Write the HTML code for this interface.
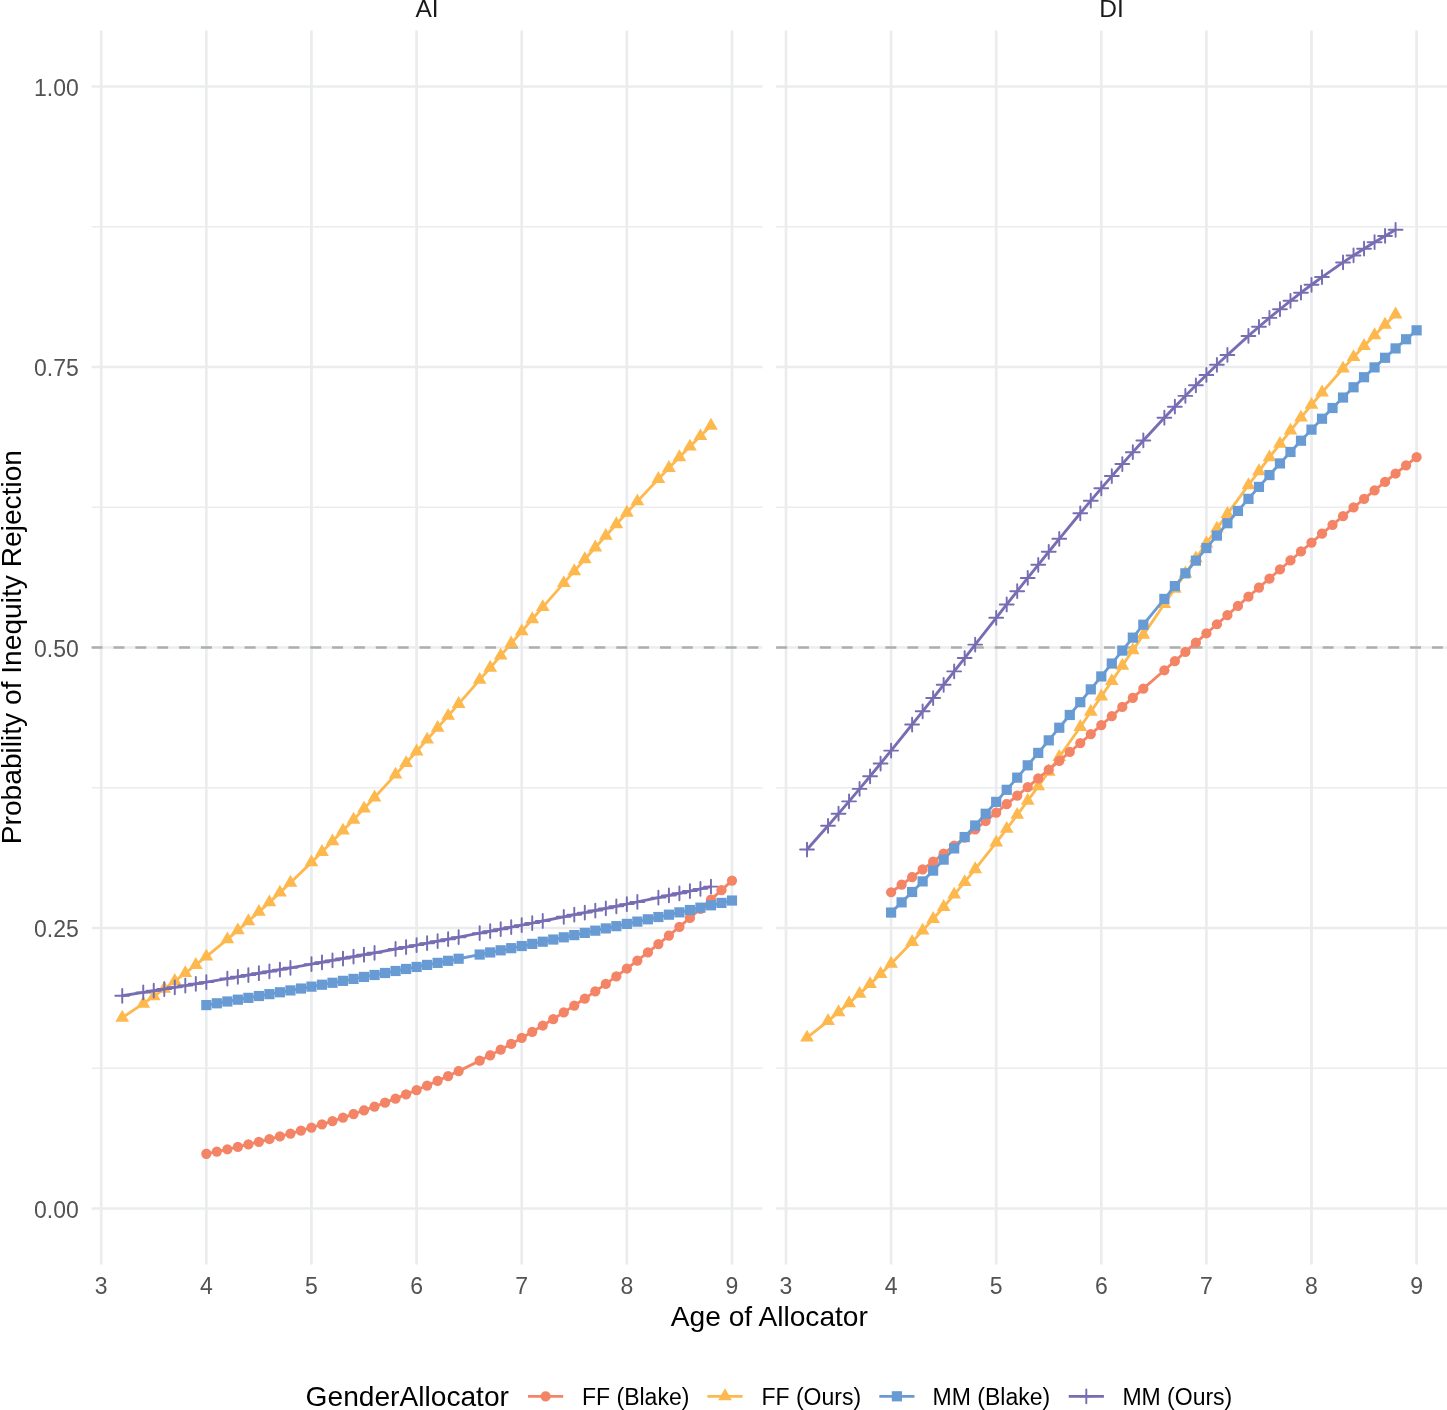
<!DOCTYPE html>
<html lang="en"><head><meta charset="utf-8"><title>Probability of Inequity Rejection by Age of Allocator</title>
<style>html,body{margin:0;padding:0;background:#fff}body{width:1447px;height:1410px;overflow:hidden}svg{display:block}text{font-family:"Liberation Sans",Arial,Helvetica,sans-serif}.ax{font-size:23px;fill:#525252}.st{font-size:24.5px;fill:#1A1A1A}.ti{font-size:28.15px;fill:#000}.lg{font-size:23px;fill:#000}</style></head><body>
<svg width="1447" height="1410" viewBox="0 0 1447 1410">
<rect width="1447" height="1410" fill="#fff"/>
<g>
<path d="M91.65 1068.25H762.6" stroke="#EBECED" stroke-width="1.36"/>
<path d="M91.65 787.75H762.6" stroke="#EBECED" stroke-width="1.36"/>
<path d="M91.65 507.25H762.6" stroke="#EBECED" stroke-width="1.36"/>
<path d="M91.65 226.75H762.6" stroke="#EBECED" stroke-width="1.36"/>
<path d="M91.65 1208.50H762.6" stroke="#EBECED" stroke-width="2.73"/>
<path d="M91.65 928.00H762.6" stroke="#EBECED" stroke-width="2.73"/>
<path d="M91.65 647.50H762.6" stroke="#EBECED" stroke-width="2.73"/>
<path d="M91.65 367.00H762.6" stroke="#EBECED" stroke-width="2.73"/>
<path d="M91.65 86.50H762.6" stroke="#EBECED" stroke-width="2.73"/>
<path d="M101.20 30.4V1264.6" stroke="#EBECED" stroke-width="2.73"/>
<path d="M206.33 30.4V1264.6" stroke="#EBECED" stroke-width="2.73"/>
<path d="M311.46 30.4V1264.6" stroke="#EBECED" stroke-width="2.73"/>
<path d="M416.59 30.4V1264.6" stroke="#EBECED" stroke-width="2.73"/>
<path d="M521.72 30.4V1264.6" stroke="#EBECED" stroke-width="2.73"/>
<path d="M626.85 30.4V1264.6" stroke="#EBECED" stroke-width="2.73"/>
<path d="M731.98 30.4V1264.6" stroke="#EBECED" stroke-width="2.73"/>
<path d="M91.65 647.50H762.6" stroke="#ADAEAF" stroke-width="2.73" stroke-dasharray="10.93 10.93"/>
</g>
<g>
<path d="M776.15 1068.25H1447.0" stroke="#EBECED" stroke-width="1.36"/>
<path d="M776.15 787.75H1447.0" stroke="#EBECED" stroke-width="1.36"/>
<path d="M776.15 507.25H1447.0" stroke="#EBECED" stroke-width="1.36"/>
<path d="M776.15 226.75H1447.0" stroke="#EBECED" stroke-width="1.36"/>
<path d="M776.15 1208.50H1447.0" stroke="#EBECED" stroke-width="2.73"/>
<path d="M776.15 928.00H1447.0" stroke="#EBECED" stroke-width="2.73"/>
<path d="M776.15 647.50H1447.0" stroke="#EBECED" stroke-width="2.73"/>
<path d="M776.15 367.00H1447.0" stroke="#EBECED" stroke-width="2.73"/>
<path d="M776.15 86.50H1447.0" stroke="#EBECED" stroke-width="2.73"/>
<path d="M786.00 30.4V1264.6" stroke="#EBECED" stroke-width="2.73"/>
<path d="M891.10 30.4V1264.6" stroke="#EBECED" stroke-width="2.73"/>
<path d="M996.20 30.4V1264.6" stroke="#EBECED" stroke-width="2.73"/>
<path d="M1101.30 30.4V1264.6" stroke="#EBECED" stroke-width="2.73"/>
<path d="M1206.40 30.4V1264.6" stroke="#EBECED" stroke-width="2.73"/>
<path d="M1311.50 30.4V1264.6" stroke="#EBECED" stroke-width="2.73"/>
<path d="M1416.60 30.4V1264.6" stroke="#EBECED" stroke-width="2.73"/>
<path d="M776.15 647.50H1447.0" stroke="#ADAEAF" stroke-width="2.73" stroke-dasharray="10.93 10.93"/>
</g>
<g><path d="M122.23 1017.75L143.25 1003.67L153.76 996.33L164.28 988.79L174.79 981.05L185.30 973.10L195.82 964.96L206.33 956.61L227.36 939.32L237.87 930.37L248.38 921.23L258.89 911.89L269.41 902.36L279.92 892.64L290.43 882.73L311.46 862.38L321.97 851.95L332.49 841.35L343.00 830.59L353.51 819.67L364.02 808.62L374.54 797.42L395.56 774.64L406.08 763.08L416.59 751.42L427.10 739.66L437.62 727.82L448.13 715.90L458.64 703.92L479.67 679.82L490.18 667.72L500.69 655.59L511.21 643.47L521.72 631.34L532.23 619.23L542.75 607.15L563.77 583.10L574.28 571.17L584.80 559.30L595.31 547.51L605.82 535.81L616.34 524.22L626.85 512.73L637.36 501.36L658.39 479.01L668.90 468.05L679.41 457.24L689.93 446.58L700.44 436.09L710.95 425.77" fill="none" stroke="#FDB84E" stroke-width="2.85" stroke-linejoin="round" stroke-linecap="butt"/>
<path d="M122.23 1009.82L129.09 1021.72L115.36 1021.72Z" fill="#FDB84E"/>
<path d="M143.25 995.74L150.12 1007.63L136.38 1007.63Z" fill="#FDB84E"/>
<path d="M153.76 988.40L160.63 1000.29L146.90 1000.29Z" fill="#FDB84E"/>
<path d="M164.28 980.86L171.15 992.75L157.41 992.75Z" fill="#FDB84E"/>
<path d="M174.79 973.11L181.66 985.01L167.92 985.01Z" fill="#FDB84E"/>
<path d="M185.30 965.17L192.17 977.07L178.44 977.07Z" fill="#FDB84E"/>
<path d="M195.82 957.03L202.69 968.92L188.95 968.92Z" fill="#FDB84E"/>
<path d="M206.33 948.68L213.20 960.58L199.46 960.58Z" fill="#FDB84E"/>
<path d="M227.36 931.39L234.22 943.28L220.49 943.28Z" fill="#FDB84E"/>
<path d="M237.87 922.44L244.74 934.34L231.00 934.34Z" fill="#FDB84E"/>
<path d="M248.38 913.30L255.25 925.19L241.51 925.19Z" fill="#FDB84E"/>
<path d="M258.89 903.96L265.76 915.85L252.03 915.85Z" fill="#FDB84E"/>
<path d="M269.41 894.43L276.28 906.32L262.54 906.32Z" fill="#FDB84E"/>
<path d="M279.92 884.71L286.79 896.60L273.05 896.60Z" fill="#FDB84E"/>
<path d="M290.43 874.80L297.30 886.70L283.57 886.70Z" fill="#FDB84E"/>
<path d="M311.46 854.45L318.33 866.35L304.59 866.35Z" fill="#FDB84E"/>
<path d="M321.97 844.02L328.84 855.91L315.10 855.91Z" fill="#FDB84E"/>
<path d="M332.49 833.42L339.35 845.31L325.62 845.31Z" fill="#FDB84E"/>
<path d="M343.00 822.66L349.87 834.55L336.13 834.55Z" fill="#FDB84E"/>
<path d="M353.51 811.74L360.38 823.64L346.64 823.64Z" fill="#FDB84E"/>
<path d="M364.02 800.68L370.89 812.58L357.16 812.58Z" fill="#FDB84E"/>
<path d="M374.54 789.49L381.41 801.38L367.67 801.38Z" fill="#FDB84E"/>
<path d="M395.56 766.71L402.43 778.61L388.70 778.61Z" fill="#FDB84E"/>
<path d="M406.08 755.15L412.95 767.05L399.21 767.05Z" fill="#FDB84E"/>
<path d="M416.59 743.49L423.46 755.38L409.72 755.38Z" fill="#FDB84E"/>
<path d="M427.10 731.73L433.97 743.62L420.23 743.62Z" fill="#FDB84E"/>
<path d="M437.62 719.89L444.48 731.78L430.75 731.78Z" fill="#FDB84E"/>
<path d="M448.13 707.97L455.00 719.87L441.26 719.87Z" fill="#FDB84E"/>
<path d="M458.64 695.99L465.51 707.89L451.77 707.89Z" fill="#FDB84E"/>
<path d="M479.67 671.89L486.54 683.78L472.80 683.78Z" fill="#FDB84E"/>
<path d="M490.18 659.78L497.05 671.68L483.31 671.68Z" fill="#FDB84E"/>
<path d="M500.69 647.66L507.56 659.56L493.83 659.56Z" fill="#FDB84E"/>
<path d="M511.21 635.53L518.08 647.43L504.34 647.43Z" fill="#FDB84E"/>
<path d="M521.72 623.41L528.59 635.31L514.85 635.31Z" fill="#FDB84E"/>
<path d="M532.23 611.30L539.10 623.20L525.36 623.20Z" fill="#FDB84E"/>
<path d="M542.75 599.22L549.61 611.11L535.88 611.11Z" fill="#FDB84E"/>
<path d="M563.77 575.17L570.64 587.07L556.90 587.07Z" fill="#FDB84E"/>
<path d="M574.28 563.23L581.15 575.13L567.42 575.13Z" fill="#FDB84E"/>
<path d="M584.80 551.37L591.67 563.26L577.93 563.26Z" fill="#FDB84E"/>
<path d="M595.31 539.58L602.18 551.48L588.44 551.48Z" fill="#FDB84E"/>
<path d="M605.82 527.88L612.69 539.78L598.96 539.78Z" fill="#FDB84E"/>
<path d="M616.34 516.28L623.21 528.18L609.47 528.18Z" fill="#FDB84E"/>
<path d="M626.85 504.80L633.72 516.69L619.98 516.69Z" fill="#FDB84E"/>
<path d="M637.36 493.43L644.23 505.33L630.49 505.33Z" fill="#FDB84E"/>
<path d="M658.39 471.08L665.26 482.98L651.52 482.98Z" fill="#FDB84E"/>
<path d="M668.90 460.12L675.77 472.02L662.03 472.02Z" fill="#FDB84E"/>
<path d="M679.41 449.31L686.28 461.20L672.55 461.20Z" fill="#FDB84E"/>
<path d="M689.93 438.65L696.80 450.55L683.06 450.55Z" fill="#FDB84E"/>
<path d="M700.44 428.16L707.31 440.06L693.57 440.06Z" fill="#FDB84E"/>
<path d="M710.95 417.84L717.82 429.74L704.09 429.74Z" fill="#FDB84E"/>
</g>
<g><path d="M122.23 995.77L143.25 992.41L153.76 990.72L164.28 989.01L174.79 987.30L185.30 985.58L195.82 983.84L206.33 982.10L227.36 978.58L237.87 976.81L248.38 975.02L258.89 973.23L269.41 971.42L279.92 969.61L290.43 967.79L311.46 964.11L321.97 962.25L332.49 960.39L343.00 958.51L353.51 956.62L364.02 954.73L374.54 952.82L395.56 948.98L406.08 947.05L416.59 945.10L427.10 943.15L437.62 941.18L448.13 939.20L458.64 937.22L479.67 933.22L490.18 931.20L500.69 929.18L511.21 927.14L521.72 925.10L532.23 923.04L542.75 920.98L563.77 916.82L574.28 914.72L584.80 912.62L595.31 910.51L605.82 908.39L616.34 906.25L626.85 904.11L637.36 901.96L658.39 897.63L668.90 895.45L679.41 893.26L689.93 891.06L700.44 888.85L710.95 886.64" fill="none" stroke="#766DB3" stroke-width="2.85" stroke-linejoin="round" stroke-linecap="butt"/>
<path d="M115.33 995.77H129.13M122.23 988.87V1002.67" stroke="#766DB3" stroke-width="1.95" stroke-linecap="round" fill="none"/>
<path d="M136.35 992.41H150.15M143.25 985.51V999.31" stroke="#766DB3" stroke-width="1.95" stroke-linecap="round" fill="none"/>
<path d="M146.86 990.72H160.66M153.76 983.82V997.62" stroke="#766DB3" stroke-width="1.95" stroke-linecap="round" fill="none"/>
<path d="M157.38 989.01H171.18M164.28 982.11V995.91" stroke="#766DB3" stroke-width="1.95" stroke-linecap="round" fill="none"/>
<path d="M167.89 987.30H181.69M174.79 980.40V994.20" stroke="#766DB3" stroke-width="1.95" stroke-linecap="round" fill="none"/>
<path d="M178.40 985.58H192.20M185.30 978.68V992.48" stroke="#766DB3" stroke-width="1.95" stroke-linecap="round" fill="none"/>
<path d="M188.92 983.84H202.72M195.82 976.94V990.74" stroke="#766DB3" stroke-width="1.95" stroke-linecap="round" fill="none"/>
<path d="M199.43 982.10H213.23M206.33 975.20V989.00" stroke="#766DB3" stroke-width="1.95" stroke-linecap="round" fill="none"/>
<path d="M220.46 978.58H234.26M227.36 971.68V985.48" stroke="#766DB3" stroke-width="1.95" stroke-linecap="round" fill="none"/>
<path d="M230.97 976.81H244.77M237.87 969.91V983.71" stroke="#766DB3" stroke-width="1.95" stroke-linecap="round" fill="none"/>
<path d="M241.48 975.02H255.28M248.38 968.12V981.92" stroke="#766DB3" stroke-width="1.95" stroke-linecap="round" fill="none"/>
<path d="M251.99 973.23H265.79M258.89 966.33V980.13" stroke="#766DB3" stroke-width="1.95" stroke-linecap="round" fill="none"/>
<path d="M262.51 971.42H276.31M269.41 964.52V978.32" stroke="#766DB3" stroke-width="1.95" stroke-linecap="round" fill="none"/>
<path d="M273.02 969.61H286.82M279.92 962.71V976.51" stroke="#766DB3" stroke-width="1.95" stroke-linecap="round" fill="none"/>
<path d="M283.53 967.79H297.33M290.43 960.89V974.69" stroke="#766DB3" stroke-width="1.95" stroke-linecap="round" fill="none"/>
<path d="M304.56 964.11H318.36M311.46 957.21V971.01" stroke="#766DB3" stroke-width="1.95" stroke-linecap="round" fill="none"/>
<path d="M315.07 962.25H328.87M321.97 955.35V969.15" stroke="#766DB3" stroke-width="1.95" stroke-linecap="round" fill="none"/>
<path d="M325.59 960.39H339.39M332.49 953.49V967.29" stroke="#766DB3" stroke-width="1.95" stroke-linecap="round" fill="none"/>
<path d="M336.10 958.51H349.90M343.00 951.61V965.41" stroke="#766DB3" stroke-width="1.95" stroke-linecap="round" fill="none"/>
<path d="M346.61 956.62H360.41M353.51 949.72V963.52" stroke="#766DB3" stroke-width="1.95" stroke-linecap="round" fill="none"/>
<path d="M357.12 954.73H370.92M364.02 947.83V961.63" stroke="#766DB3" stroke-width="1.95" stroke-linecap="round" fill="none"/>
<path d="M367.64 952.82H381.44M374.54 945.92V959.72" stroke="#766DB3" stroke-width="1.95" stroke-linecap="round" fill="none"/>
<path d="M388.66 948.98H402.46M395.56 942.08V955.88" stroke="#766DB3" stroke-width="1.95" stroke-linecap="round" fill="none"/>
<path d="M399.18 947.05H412.98M406.08 940.15V953.95" stroke="#766DB3" stroke-width="1.95" stroke-linecap="round" fill="none"/>
<path d="M409.69 945.10H423.49M416.59 938.20V952.00" stroke="#766DB3" stroke-width="1.95" stroke-linecap="round" fill="none"/>
<path d="M420.20 943.15H434.00M427.10 936.25V950.05" stroke="#766DB3" stroke-width="1.95" stroke-linecap="round" fill="none"/>
<path d="M430.72 941.18H444.52M437.62 934.28V948.08" stroke="#766DB3" stroke-width="1.95" stroke-linecap="round" fill="none"/>
<path d="M441.23 939.20H455.03M448.13 932.30V946.10" stroke="#766DB3" stroke-width="1.95" stroke-linecap="round" fill="none"/>
<path d="M451.74 937.22H465.54M458.64 930.32V944.12" stroke="#766DB3" stroke-width="1.95" stroke-linecap="round" fill="none"/>
<path d="M472.77 933.22H486.57M479.67 926.32V940.12" stroke="#766DB3" stroke-width="1.95" stroke-linecap="round" fill="none"/>
<path d="M483.28 931.20H497.08M490.18 924.30V938.10" stroke="#766DB3" stroke-width="1.95" stroke-linecap="round" fill="none"/>
<path d="M493.79 929.18H507.59M500.69 922.28V936.08" stroke="#766DB3" stroke-width="1.95" stroke-linecap="round" fill="none"/>
<path d="M504.31 927.14H518.11M511.21 920.24V934.04" stroke="#766DB3" stroke-width="1.95" stroke-linecap="round" fill="none"/>
<path d="M514.82 925.10H528.62M521.72 918.20V932.00" stroke="#766DB3" stroke-width="1.95" stroke-linecap="round" fill="none"/>
<path d="M525.33 923.04H539.13M532.23 916.14V929.94" stroke="#766DB3" stroke-width="1.95" stroke-linecap="round" fill="none"/>
<path d="M535.85 920.98H549.65M542.75 914.08V927.88" stroke="#766DB3" stroke-width="1.95" stroke-linecap="round" fill="none"/>
<path d="M556.87 916.82H570.67M563.77 909.92V923.72" stroke="#766DB3" stroke-width="1.95" stroke-linecap="round" fill="none"/>
<path d="M567.38 914.72H581.18M574.28 907.82V921.62" stroke="#766DB3" stroke-width="1.95" stroke-linecap="round" fill="none"/>
<path d="M577.90 912.62H591.70M584.80 905.72V919.52" stroke="#766DB3" stroke-width="1.95" stroke-linecap="round" fill="none"/>
<path d="M588.41 910.51H602.21M595.31 903.61V917.41" stroke="#766DB3" stroke-width="1.95" stroke-linecap="round" fill="none"/>
<path d="M598.92 908.39H612.72M605.82 901.49V915.29" stroke="#766DB3" stroke-width="1.95" stroke-linecap="round" fill="none"/>
<path d="M609.44 906.25H623.24M616.34 899.35V913.15" stroke="#766DB3" stroke-width="1.95" stroke-linecap="round" fill="none"/>
<path d="M619.95 904.11H633.75M626.85 897.21V911.01" stroke="#766DB3" stroke-width="1.95" stroke-linecap="round" fill="none"/>
<path d="M630.46 901.96H644.26M637.36 895.06V908.86" stroke="#766DB3" stroke-width="1.95" stroke-linecap="round" fill="none"/>
<path d="M651.49 897.63H665.29M658.39 890.73V904.53" stroke="#766DB3" stroke-width="1.95" stroke-linecap="round" fill="none"/>
<path d="M662.00 895.45H675.80M668.90 888.55V902.35" stroke="#766DB3" stroke-width="1.95" stroke-linecap="round" fill="none"/>
<path d="M672.51 893.26H686.31M679.41 886.36V900.16" stroke="#766DB3" stroke-width="1.95" stroke-linecap="round" fill="none"/>
<path d="M683.03 891.06H696.83M689.93 884.16V897.96" stroke="#766DB3" stroke-width="1.95" stroke-linecap="round" fill="none"/>
<path d="M693.54 888.85H707.34M700.44 881.95V895.75" stroke="#766DB3" stroke-width="1.95" stroke-linecap="round" fill="none"/>
<path d="M704.05 886.64H717.85M710.95 879.74V893.54" stroke="#766DB3" stroke-width="1.95" stroke-linecap="round" fill="none"/>
</g>
<g><path d="M206.33 1153.80L216.84 1151.59L227.36 1149.29L237.87 1146.91L248.38 1144.43L258.89 1141.86L269.41 1139.20L279.92 1136.44L290.43 1133.57L300.95 1130.60L311.46 1127.52L321.97 1124.33L332.49 1121.02L343.00 1117.59L353.51 1114.05L364.02 1110.37L374.54 1106.57L385.05 1102.64L395.56 1098.57L406.08 1094.36L416.59 1090.01L427.10 1085.51L437.62 1080.87L448.13 1076.07L458.64 1071.12L479.67 1060.73L490.18 1055.30L500.69 1049.69L511.21 1043.92L521.72 1037.97L532.23 1031.84L542.75 1025.54L553.26 1019.06L563.77 1012.40L574.28 1005.56L584.80 998.53L595.31 991.31L605.82 983.91L616.34 976.32L626.85 968.54L637.36 960.57L647.88 952.42L658.39 944.07L668.90 935.55L679.41 926.84L689.93 917.94L700.44 908.86L710.95 899.61L721.47 890.18L731.98 880.58" fill="none" stroke="#F48466" stroke-width="2.85" stroke-linejoin="round" stroke-linecap="butt"/>
<circle cx="206.33" cy="1153.80" r="5.12" fill="#F48466"/>
<circle cx="216.84" cy="1151.59" r="5.12" fill="#F48466"/>
<circle cx="227.36" cy="1149.29" r="5.12" fill="#F48466"/>
<circle cx="237.87" cy="1146.91" r="5.12" fill="#F48466"/>
<circle cx="248.38" cy="1144.43" r="5.12" fill="#F48466"/>
<circle cx="258.89" cy="1141.86" r="5.12" fill="#F48466"/>
<circle cx="269.41" cy="1139.20" r="5.12" fill="#F48466"/>
<circle cx="279.92" cy="1136.44" r="5.12" fill="#F48466"/>
<circle cx="290.43" cy="1133.57" r="5.12" fill="#F48466"/>
<circle cx="300.95" cy="1130.60" r="5.12" fill="#F48466"/>
<circle cx="311.46" cy="1127.52" r="5.12" fill="#F48466"/>
<circle cx="321.97" cy="1124.33" r="5.12" fill="#F48466"/>
<circle cx="332.49" cy="1121.02" r="5.12" fill="#F48466"/>
<circle cx="343.00" cy="1117.59" r="5.12" fill="#F48466"/>
<circle cx="353.51" cy="1114.05" r="5.12" fill="#F48466"/>
<circle cx="364.02" cy="1110.37" r="5.12" fill="#F48466"/>
<circle cx="374.54" cy="1106.57" r="5.12" fill="#F48466"/>
<circle cx="385.05" cy="1102.64" r="5.12" fill="#F48466"/>
<circle cx="395.56" cy="1098.57" r="5.12" fill="#F48466"/>
<circle cx="406.08" cy="1094.36" r="5.12" fill="#F48466"/>
<circle cx="416.59" cy="1090.01" r="5.12" fill="#F48466"/>
<circle cx="427.10" cy="1085.51" r="5.12" fill="#F48466"/>
<circle cx="437.62" cy="1080.87" r="5.12" fill="#F48466"/>
<circle cx="448.13" cy="1076.07" r="5.12" fill="#F48466"/>
<circle cx="458.64" cy="1071.12" r="5.12" fill="#F48466"/>
<circle cx="479.67" cy="1060.73" r="5.12" fill="#F48466"/>
<circle cx="490.18" cy="1055.30" r="5.12" fill="#F48466"/>
<circle cx="500.69" cy="1049.69" r="5.12" fill="#F48466"/>
<circle cx="511.21" cy="1043.92" r="5.12" fill="#F48466"/>
<circle cx="521.72" cy="1037.97" r="5.12" fill="#F48466"/>
<circle cx="532.23" cy="1031.84" r="5.12" fill="#F48466"/>
<circle cx="542.75" cy="1025.54" r="5.12" fill="#F48466"/>
<circle cx="553.26" cy="1019.06" r="5.12" fill="#F48466"/>
<circle cx="563.77" cy="1012.40" r="5.12" fill="#F48466"/>
<circle cx="574.28" cy="1005.56" r="5.12" fill="#F48466"/>
<circle cx="584.80" cy="998.53" r="5.12" fill="#F48466"/>
<circle cx="595.31" cy="991.31" r="5.12" fill="#F48466"/>
<circle cx="605.82" cy="983.91" r="5.12" fill="#F48466"/>
<circle cx="616.34" cy="976.32" r="5.12" fill="#F48466"/>
<circle cx="626.85" cy="968.54" r="5.12" fill="#F48466"/>
<circle cx="637.36" cy="960.57" r="5.12" fill="#F48466"/>
<circle cx="647.88" cy="952.42" r="5.12" fill="#F48466"/>
<circle cx="658.39" cy="944.07" r="5.12" fill="#F48466"/>
<circle cx="668.90" cy="935.55" r="5.12" fill="#F48466"/>
<circle cx="679.41" cy="926.84" r="5.12" fill="#F48466"/>
<circle cx="689.93" cy="917.94" r="5.12" fill="#F48466"/>
<circle cx="700.44" cy="908.86" r="5.12" fill="#F48466"/>
<circle cx="710.95" cy="899.61" r="5.12" fill="#F48466"/>
<circle cx="721.47" cy="890.18" r="5.12" fill="#F48466"/>
<circle cx="731.98" cy="880.58" r="5.12" fill="#F48466"/>
</g>
<g><path d="M206.33 1005.08L216.84 1003.29L227.36 1001.49L237.87 999.67L248.38 997.85L258.89 996.01L269.41 994.16L279.92 992.29L290.43 990.42L300.95 988.53L311.46 986.63L321.97 984.72L332.49 982.79L343.00 980.86L353.51 978.91L364.02 976.94L374.54 974.97L385.05 972.98L395.56 970.98L406.08 968.97L416.59 966.95L427.10 964.91L437.62 962.86L448.13 960.80L458.64 958.73L479.67 954.55L490.18 952.44L500.69 950.31L511.21 948.18L521.72 946.03L532.23 943.87L542.75 941.70L553.26 939.52L563.77 937.32L574.28 935.11L584.80 932.89L595.31 930.66L605.82 928.41L616.34 926.16L626.85 923.89L637.36 921.61L647.88 919.31L658.39 917.01L668.90 914.69L679.41 912.36L689.93 910.02L700.44 907.67L710.95 905.31L721.47 902.93L731.98 900.55" fill="none" stroke="#689BD3" stroke-width="2.85" stroke-linejoin="round" stroke-linecap="butt"/>
<rect x="201.23" y="999.98" width="10.20" height="10.20" fill="#689BD3"/>
<rect x="211.74" y="998.19" width="10.20" height="10.20" fill="#689BD3"/>
<rect x="222.26" y="996.39" width="10.20" height="10.20" fill="#689BD3"/>
<rect x="232.77" y="994.57" width="10.20" height="10.20" fill="#689BD3"/>
<rect x="243.28" y="992.75" width="10.20" height="10.20" fill="#689BD3"/>
<rect x="253.79" y="990.91" width="10.20" height="10.20" fill="#689BD3"/>
<rect x="264.31" y="989.06" width="10.20" height="10.20" fill="#689BD3"/>
<rect x="274.82" y="987.19" width="10.20" height="10.20" fill="#689BD3"/>
<rect x="285.33" y="985.32" width="10.20" height="10.20" fill="#689BD3"/>
<rect x="295.85" y="983.43" width="10.20" height="10.20" fill="#689BD3"/>
<rect x="306.36" y="981.53" width="10.20" height="10.20" fill="#689BD3"/>
<rect x="316.87" y="979.62" width="10.20" height="10.20" fill="#689BD3"/>
<rect x="327.39" y="977.69" width="10.20" height="10.20" fill="#689BD3"/>
<rect x="337.90" y="975.76" width="10.20" height="10.20" fill="#689BD3"/>
<rect x="348.41" y="973.81" width="10.20" height="10.20" fill="#689BD3"/>
<rect x="358.92" y="971.84" width="10.20" height="10.20" fill="#689BD3"/>
<rect x="369.44" y="969.87" width="10.20" height="10.20" fill="#689BD3"/>
<rect x="379.95" y="967.88" width="10.20" height="10.20" fill="#689BD3"/>
<rect x="390.46" y="965.88" width="10.20" height="10.20" fill="#689BD3"/>
<rect x="400.98" y="963.87" width="10.20" height="10.20" fill="#689BD3"/>
<rect x="411.49" y="961.85" width="10.20" height="10.20" fill="#689BD3"/>
<rect x="422.00" y="959.81" width="10.20" height="10.20" fill="#689BD3"/>
<rect x="432.52" y="957.76" width="10.20" height="10.20" fill="#689BD3"/>
<rect x="443.03" y="955.70" width="10.20" height="10.20" fill="#689BD3"/>
<rect x="453.54" y="953.63" width="10.20" height="10.20" fill="#689BD3"/>
<rect x="474.57" y="949.45" width="10.20" height="10.20" fill="#689BD3"/>
<rect x="485.08" y="947.34" width="10.20" height="10.20" fill="#689BD3"/>
<rect x="495.59" y="945.21" width="10.20" height="10.20" fill="#689BD3"/>
<rect x="506.11" y="943.08" width="10.20" height="10.20" fill="#689BD3"/>
<rect x="516.62" y="940.93" width="10.20" height="10.20" fill="#689BD3"/>
<rect x="527.13" y="938.77" width="10.20" height="10.20" fill="#689BD3"/>
<rect x="537.65" y="936.60" width="10.20" height="10.20" fill="#689BD3"/>
<rect x="548.16" y="934.42" width="10.20" height="10.20" fill="#689BD3"/>
<rect x="558.67" y="932.22" width="10.20" height="10.20" fill="#689BD3"/>
<rect x="569.18" y="930.01" width="10.20" height="10.20" fill="#689BD3"/>
<rect x="579.70" y="927.79" width="10.20" height="10.20" fill="#689BD3"/>
<rect x="590.21" y="925.56" width="10.20" height="10.20" fill="#689BD3"/>
<rect x="600.72" y="923.31" width="10.20" height="10.20" fill="#689BD3"/>
<rect x="611.24" y="921.06" width="10.20" height="10.20" fill="#689BD3"/>
<rect x="621.75" y="918.79" width="10.20" height="10.20" fill="#689BD3"/>
<rect x="632.26" y="916.51" width="10.20" height="10.20" fill="#689BD3"/>
<rect x="642.78" y="914.21" width="10.20" height="10.20" fill="#689BD3"/>
<rect x="653.29" y="911.91" width="10.20" height="10.20" fill="#689BD3"/>
<rect x="663.80" y="909.59" width="10.20" height="10.20" fill="#689BD3"/>
<rect x="674.31" y="907.26" width="10.20" height="10.20" fill="#689BD3"/>
<rect x="684.83" y="904.92" width="10.20" height="10.20" fill="#689BD3"/>
<rect x="695.34" y="902.57" width="10.20" height="10.20" fill="#689BD3"/>
<rect x="705.85" y="900.21" width="10.20" height="10.20" fill="#689BD3"/>
<rect x="716.37" y="897.83" width="10.20" height="10.20" fill="#689BD3"/>
<rect x="726.88" y="895.45" width="10.20" height="10.20" fill="#689BD3"/>
</g>
<g><path d="M807.02 1037.60L828.04 1021.04L838.55 1012.28L849.06 1003.21L859.57 993.81L870.08 984.09L880.59 974.05L891.10 963.67L912.12 941.95L922.63 930.60L933.14 918.93L943.65 906.95L954.16 894.65L964.67 882.06L975.18 869.17L996.20 842.56L1006.71 828.86L1017.22 814.91L1027.73 800.73L1038.24 786.33L1048.75 771.74L1059.26 756.97L1080.28 726.97L1090.79 711.78L1101.30 696.50L1111.81 681.14L1122.32 665.73L1132.83 650.30L1143.34 634.86L1164.36 604.06L1174.87 588.75L1185.38 573.52L1195.89 558.41L1206.40 543.42L1216.91 528.59L1227.42 513.93L1248.44 485.21L1258.95 471.17L1269.46 457.38L1279.97 443.84L1290.48 430.57L1300.99 417.58L1311.50 404.88L1322.01 392.47L1343.03 368.59L1353.54 357.13L1364.05 345.98L1374.56 335.17L1385.07 324.67L1395.58 314.51" fill="none" stroke="#FDB84E" stroke-width="2.85" stroke-linejoin="round" stroke-linecap="butt"/>
<path d="M807.02 1029.67L813.89 1041.57L800.15 1041.57Z" fill="#FDB84E"/>
<path d="M828.04 1013.11L834.91 1025.00L821.17 1025.00Z" fill="#FDB84E"/>
<path d="M838.55 1004.35L845.42 1016.25L831.68 1016.25Z" fill="#FDB84E"/>
<path d="M849.06 995.28L855.93 1007.18L842.19 1007.18Z" fill="#FDB84E"/>
<path d="M859.57 985.88L866.44 997.78L852.70 997.78Z" fill="#FDB84E"/>
<path d="M870.08 976.16L876.95 988.06L863.21 988.06Z" fill="#FDB84E"/>
<path d="M880.59 966.12L887.46 978.01L873.72 978.01Z" fill="#FDB84E"/>
<path d="M891.10 955.74L897.97 967.64L884.23 967.64Z" fill="#FDB84E"/>
<path d="M912.12 934.02L918.99 945.91L905.25 945.91Z" fill="#FDB84E"/>
<path d="M922.63 922.67L929.50 934.56L915.76 934.56Z" fill="#FDB84E"/>
<path d="M933.14 911.00L940.01 922.90L926.27 922.90Z" fill="#FDB84E"/>
<path d="M943.65 899.02L950.52 910.91L936.78 910.91Z" fill="#FDB84E"/>
<path d="M954.16 886.72L961.03 898.62L947.29 898.62Z" fill="#FDB84E"/>
<path d="M964.67 874.13L971.54 886.03L957.80 886.03Z" fill="#FDB84E"/>
<path d="M975.18 861.24L982.05 873.14L968.31 873.14Z" fill="#FDB84E"/>
<path d="M996.20 834.63L1003.07 846.52L989.33 846.52Z" fill="#FDB84E"/>
<path d="M1006.71 820.92L1013.58 832.82L999.84 832.82Z" fill="#FDB84E"/>
<path d="M1017.22 806.98L1024.09 818.87L1010.35 818.87Z" fill="#FDB84E"/>
<path d="M1027.73 792.80L1034.60 804.69L1020.86 804.69Z" fill="#FDB84E"/>
<path d="M1038.24 778.40L1045.11 790.30L1031.37 790.30Z" fill="#FDB84E"/>
<path d="M1048.75 763.81L1055.62 775.71L1041.88 775.71Z" fill="#FDB84E"/>
<path d="M1059.26 749.04L1066.13 760.94L1052.39 760.94Z" fill="#FDB84E"/>
<path d="M1080.28 719.04L1087.15 730.94L1073.41 730.94Z" fill="#FDB84E"/>
<path d="M1090.79 703.85L1097.66 715.75L1083.92 715.75Z" fill="#FDB84E"/>
<path d="M1101.30 688.57L1108.17 700.46L1094.43 700.46Z" fill="#FDB84E"/>
<path d="M1111.81 673.21L1118.68 685.11L1104.94 685.11Z" fill="#FDB84E"/>
<path d="M1122.32 657.80L1129.19 669.70L1115.45 669.70Z" fill="#FDB84E"/>
<path d="M1132.83 642.37L1139.70 654.26L1125.96 654.26Z" fill="#FDB84E"/>
<path d="M1143.34 626.93L1150.21 638.82L1136.47 638.82Z" fill="#FDB84E"/>
<path d="M1164.36 596.13L1171.23 608.03L1157.49 608.03Z" fill="#FDB84E"/>
<path d="M1174.87 580.82L1181.74 592.71L1168.00 592.71Z" fill="#FDB84E"/>
<path d="M1185.38 565.59L1192.25 577.49L1178.51 577.49Z" fill="#FDB84E"/>
<path d="M1195.89 550.48L1202.76 562.37L1189.02 562.37Z" fill="#FDB84E"/>
<path d="M1206.40 535.49L1213.27 547.39L1199.53 547.39Z" fill="#FDB84E"/>
<path d="M1216.91 520.66L1223.78 532.56L1210.04 532.56Z" fill="#FDB84E"/>
<path d="M1227.42 506.00L1234.29 517.90L1220.55 517.90Z" fill="#FDB84E"/>
<path d="M1248.44 477.28L1255.31 489.17L1241.57 489.17Z" fill="#FDB84E"/>
<path d="M1258.95 463.24L1265.82 475.14L1252.08 475.14Z" fill="#FDB84E"/>
<path d="M1269.46 449.45L1276.33 461.34L1262.59 461.34Z" fill="#FDB84E"/>
<path d="M1279.97 435.91L1286.84 447.81L1273.10 447.81Z" fill="#FDB84E"/>
<path d="M1290.48 422.64L1297.35 434.53L1283.61 434.53Z" fill="#FDB84E"/>
<path d="M1300.99 409.65L1307.86 421.54L1294.12 421.54Z" fill="#FDB84E"/>
<path d="M1311.50 396.95L1318.37 408.84L1304.63 408.84Z" fill="#FDB84E"/>
<path d="M1322.01 384.54L1328.88 396.44L1315.14 396.44Z" fill="#FDB84E"/>
<path d="M1343.03 360.66L1349.90 372.56L1336.16 372.56Z" fill="#FDB84E"/>
<path d="M1353.54 349.20L1360.41 361.09L1346.67 361.09Z" fill="#FDB84E"/>
<path d="M1364.05 338.05L1370.92 349.95L1357.18 349.95Z" fill="#FDB84E"/>
<path d="M1374.56 327.24L1381.43 339.13L1367.69 339.13Z" fill="#FDB84E"/>
<path d="M1385.07 316.74L1391.94 328.64L1378.20 328.64Z" fill="#FDB84E"/>
<path d="M1395.58 306.58L1402.45 318.47L1388.71 318.47Z" fill="#FDB84E"/>
</g>
<g><path d="M807.02 849.51L828.04 825.80L838.55 813.66L849.06 801.36L859.57 788.88L870.08 776.26L880.59 763.50L891.10 750.61L912.12 724.51L922.63 711.33L933.14 698.07L943.65 684.75L954.16 671.39L964.67 658.01L975.18 644.61L996.20 617.84L1006.71 604.49L1017.22 591.20L1027.73 577.97L1038.24 564.82L1048.75 551.76L1059.26 538.81L1080.28 513.27L1090.79 500.71L1101.30 488.31L1111.81 476.07L1122.32 464.02L1132.83 452.15L1143.34 440.47L1164.36 417.74L1174.87 406.70L1185.38 395.88L1195.89 385.29L1206.40 374.94L1216.91 364.82L1227.42 354.95L1248.44 335.92L1258.95 326.78L1269.46 317.88L1279.97 309.23L1290.48 300.83L1300.99 292.67L1311.50 284.75L1322.01 277.07L1343.03 262.43L1353.54 255.46L1364.05 248.72L1374.56 242.20L1385.07 235.91L1395.58 229.83" fill="none" stroke="#766DB3" stroke-width="2.85" stroke-linejoin="round" stroke-linecap="butt"/>
<path d="M800.12 849.51H813.92M807.02 842.61V856.41" stroke="#766DB3" stroke-width="1.95" stroke-linecap="round" fill="none"/>
<path d="M821.14 825.80H834.94M828.04 818.90V832.70" stroke="#766DB3" stroke-width="1.95" stroke-linecap="round" fill="none"/>
<path d="M831.65 813.66H845.45M838.55 806.76V820.56" stroke="#766DB3" stroke-width="1.95" stroke-linecap="round" fill="none"/>
<path d="M842.16 801.36H855.96M849.06 794.46V808.26" stroke="#766DB3" stroke-width="1.95" stroke-linecap="round" fill="none"/>
<path d="M852.67 788.88H866.47M859.57 781.98V795.78" stroke="#766DB3" stroke-width="1.95" stroke-linecap="round" fill="none"/>
<path d="M863.18 776.26H876.98M870.08 769.36V783.16" stroke="#766DB3" stroke-width="1.95" stroke-linecap="round" fill="none"/>
<path d="M873.69 763.50H887.49M880.59 756.60V770.40" stroke="#766DB3" stroke-width="1.95" stroke-linecap="round" fill="none"/>
<path d="M884.20 750.61H898.00M891.10 743.71V757.51" stroke="#766DB3" stroke-width="1.95" stroke-linecap="round" fill="none"/>
<path d="M905.22 724.51H919.02M912.12 717.61V731.41" stroke="#766DB3" stroke-width="1.95" stroke-linecap="round" fill="none"/>
<path d="M915.73 711.33H929.53M922.63 704.43V718.23" stroke="#766DB3" stroke-width="1.95" stroke-linecap="round" fill="none"/>
<path d="M926.24 698.07H940.04M933.14 691.17V704.97" stroke="#766DB3" stroke-width="1.95" stroke-linecap="round" fill="none"/>
<path d="M936.75 684.75H950.55M943.65 677.85V691.65" stroke="#766DB3" stroke-width="1.95" stroke-linecap="round" fill="none"/>
<path d="M947.26 671.39H961.06M954.16 664.49V678.29" stroke="#766DB3" stroke-width="1.95" stroke-linecap="round" fill="none"/>
<path d="M957.77 658.01H971.57M964.67 651.11V664.91" stroke="#766DB3" stroke-width="1.95" stroke-linecap="round" fill="none"/>
<path d="M968.28 644.61H982.08M975.18 637.71V651.51" stroke="#766DB3" stroke-width="1.95" stroke-linecap="round" fill="none"/>
<path d="M989.30 617.84H1003.10M996.20 610.94V624.74" stroke="#766DB3" stroke-width="1.95" stroke-linecap="round" fill="none"/>
<path d="M999.81 604.49H1013.61M1006.71 597.59V611.39" stroke="#766DB3" stroke-width="1.95" stroke-linecap="round" fill="none"/>
<path d="M1010.32 591.20H1024.12M1017.22 584.30V598.10" stroke="#766DB3" stroke-width="1.95" stroke-linecap="round" fill="none"/>
<path d="M1020.83 577.97H1034.63M1027.73 571.07V584.87" stroke="#766DB3" stroke-width="1.95" stroke-linecap="round" fill="none"/>
<path d="M1031.34 564.82H1045.14M1038.24 557.92V571.72" stroke="#766DB3" stroke-width="1.95" stroke-linecap="round" fill="none"/>
<path d="M1041.85 551.76H1055.65M1048.75 544.86V558.66" stroke="#766DB3" stroke-width="1.95" stroke-linecap="round" fill="none"/>
<path d="M1052.36 538.81H1066.16M1059.26 531.91V545.71" stroke="#766DB3" stroke-width="1.95" stroke-linecap="round" fill="none"/>
<path d="M1073.38 513.27H1087.18M1080.28 506.37V520.17" stroke="#766DB3" stroke-width="1.95" stroke-linecap="round" fill="none"/>
<path d="M1083.89 500.71H1097.69M1090.79 493.81V507.61" stroke="#766DB3" stroke-width="1.95" stroke-linecap="round" fill="none"/>
<path d="M1094.40 488.31H1108.20M1101.30 481.41V495.21" stroke="#766DB3" stroke-width="1.95" stroke-linecap="round" fill="none"/>
<path d="M1104.91 476.07H1118.71M1111.81 469.17V482.97" stroke="#766DB3" stroke-width="1.95" stroke-linecap="round" fill="none"/>
<path d="M1115.42 464.02H1129.22M1122.32 457.12V470.92" stroke="#766DB3" stroke-width="1.95" stroke-linecap="round" fill="none"/>
<path d="M1125.93 452.15H1139.73M1132.83 445.25V459.05" stroke="#766DB3" stroke-width="1.95" stroke-linecap="round" fill="none"/>
<path d="M1136.44 440.47H1150.24M1143.34 433.57V447.37" stroke="#766DB3" stroke-width="1.95" stroke-linecap="round" fill="none"/>
<path d="M1157.46 417.74H1171.26M1164.36 410.84V424.64" stroke="#766DB3" stroke-width="1.95" stroke-linecap="round" fill="none"/>
<path d="M1167.97 406.70H1181.77M1174.87 399.80V413.60" stroke="#766DB3" stroke-width="1.95" stroke-linecap="round" fill="none"/>
<path d="M1178.48 395.88H1192.28M1185.38 388.98V402.78" stroke="#766DB3" stroke-width="1.95" stroke-linecap="round" fill="none"/>
<path d="M1188.99 385.29H1202.79M1195.89 378.39V392.19" stroke="#766DB3" stroke-width="1.95" stroke-linecap="round" fill="none"/>
<path d="M1199.50 374.94H1213.30M1206.40 368.04V381.84" stroke="#766DB3" stroke-width="1.95" stroke-linecap="round" fill="none"/>
<path d="M1210.01 364.82H1223.81M1216.91 357.92V371.72" stroke="#766DB3" stroke-width="1.95" stroke-linecap="round" fill="none"/>
<path d="M1220.52 354.95H1234.32M1227.42 348.05V361.85" stroke="#766DB3" stroke-width="1.95" stroke-linecap="round" fill="none"/>
<path d="M1241.54 335.92H1255.34M1248.44 329.02V342.82" stroke="#766DB3" stroke-width="1.95" stroke-linecap="round" fill="none"/>
<path d="M1252.05 326.78H1265.85M1258.95 319.88V333.68" stroke="#766DB3" stroke-width="1.95" stroke-linecap="round" fill="none"/>
<path d="M1262.56 317.88H1276.36M1269.46 310.98V324.78" stroke="#766DB3" stroke-width="1.95" stroke-linecap="round" fill="none"/>
<path d="M1273.07 309.23H1286.87M1279.97 302.33V316.13" stroke="#766DB3" stroke-width="1.95" stroke-linecap="round" fill="none"/>
<path d="M1283.58 300.83H1297.38M1290.48 293.93V307.73" stroke="#766DB3" stroke-width="1.95" stroke-linecap="round" fill="none"/>
<path d="M1294.09 292.67H1307.89M1300.99 285.77V299.57" stroke="#766DB3" stroke-width="1.95" stroke-linecap="round" fill="none"/>
<path d="M1304.60 284.75H1318.40M1311.50 277.85V291.65" stroke="#766DB3" stroke-width="1.95" stroke-linecap="round" fill="none"/>
<path d="M1315.11 277.07H1328.91M1322.01 270.17V283.97" stroke="#766DB3" stroke-width="1.95" stroke-linecap="round" fill="none"/>
<path d="M1336.13 262.43H1349.93M1343.03 255.53V269.33" stroke="#766DB3" stroke-width="1.95" stroke-linecap="round" fill="none"/>
<path d="M1346.64 255.46H1360.44M1353.54 248.56V262.36" stroke="#766DB3" stroke-width="1.95" stroke-linecap="round" fill="none"/>
<path d="M1357.15 248.72H1370.95M1364.05 241.82V255.62" stroke="#766DB3" stroke-width="1.95" stroke-linecap="round" fill="none"/>
<path d="M1367.66 242.20H1381.46M1374.56 235.30V249.10" stroke="#766DB3" stroke-width="1.95" stroke-linecap="round" fill="none"/>
<path d="M1378.17 235.91H1391.97M1385.07 229.01V242.81" stroke="#766DB3" stroke-width="1.95" stroke-linecap="round" fill="none"/>
<path d="M1388.68 229.83H1402.48M1395.58 222.93V236.73" stroke="#766DB3" stroke-width="1.95" stroke-linecap="round" fill="none"/>
</g>
<g><path d="M891.10 892.25L901.61 884.73L912.12 877.12L922.63 869.40L933.14 861.57L943.65 853.65L954.16 845.64L964.67 837.53L975.18 829.33L985.69 821.04L996.20 812.67L1006.71 804.21L1017.22 795.68L1027.73 787.07L1038.24 778.40L1048.75 769.65L1059.26 760.85L1069.77 751.98L1080.28 743.06L1090.79 734.09L1101.30 725.08L1111.81 716.02L1122.32 706.93L1132.83 697.80L1143.34 688.65L1164.36 670.29L1174.87 661.09L1185.38 651.88L1195.89 642.66L1206.40 633.45L1216.91 624.25L1227.42 615.06L1237.93 605.89L1248.44 596.74L1258.95 587.62L1269.46 578.53L1279.97 569.47L1290.48 560.46L1300.99 551.49L1311.50 542.57L1322.01 533.71L1332.52 524.91L1343.03 516.17L1353.54 507.49L1364.05 498.89L1374.56 490.36L1385.07 481.91L1395.58 473.54L1406.09 465.26L1416.60 457.06" fill="none" stroke="#F48466" stroke-width="2.85" stroke-linejoin="round" stroke-linecap="butt"/>
<circle cx="891.10" cy="892.25" r="5.12" fill="#F48466"/>
<circle cx="901.61" cy="884.73" r="5.12" fill="#F48466"/>
<circle cx="912.12" cy="877.12" r="5.12" fill="#F48466"/>
<circle cx="922.63" cy="869.40" r="5.12" fill="#F48466"/>
<circle cx="933.14" cy="861.57" r="5.12" fill="#F48466"/>
<circle cx="943.65" cy="853.65" r="5.12" fill="#F48466"/>
<circle cx="954.16" cy="845.64" r="5.12" fill="#F48466"/>
<circle cx="964.67" cy="837.53" r="5.12" fill="#F48466"/>
<circle cx="975.18" cy="829.33" r="5.12" fill="#F48466"/>
<circle cx="985.69" cy="821.04" r="5.12" fill="#F48466"/>
<circle cx="996.20" cy="812.67" r="5.12" fill="#F48466"/>
<circle cx="1006.71" cy="804.21" r="5.12" fill="#F48466"/>
<circle cx="1017.22" cy="795.68" r="5.12" fill="#F48466"/>
<circle cx="1027.73" cy="787.07" r="5.12" fill="#F48466"/>
<circle cx="1038.24" cy="778.40" r="5.12" fill="#F48466"/>
<circle cx="1048.75" cy="769.65" r="5.12" fill="#F48466"/>
<circle cx="1059.26" cy="760.85" r="5.12" fill="#F48466"/>
<circle cx="1069.77" cy="751.98" r="5.12" fill="#F48466"/>
<circle cx="1080.28" cy="743.06" r="5.12" fill="#F48466"/>
<circle cx="1090.79" cy="734.09" r="5.12" fill="#F48466"/>
<circle cx="1101.30" cy="725.08" r="5.12" fill="#F48466"/>
<circle cx="1111.81" cy="716.02" r="5.12" fill="#F48466"/>
<circle cx="1122.32" cy="706.93" r="5.12" fill="#F48466"/>
<circle cx="1132.83" cy="697.80" r="5.12" fill="#F48466"/>
<circle cx="1143.34" cy="688.65" r="5.12" fill="#F48466"/>
<circle cx="1164.36" cy="670.29" r="5.12" fill="#F48466"/>
<circle cx="1174.87" cy="661.09" r="5.12" fill="#F48466"/>
<circle cx="1185.38" cy="651.88" r="5.12" fill="#F48466"/>
<circle cx="1195.89" cy="642.66" r="5.12" fill="#F48466"/>
<circle cx="1206.40" cy="633.45" r="5.12" fill="#F48466"/>
<circle cx="1216.91" cy="624.25" r="5.12" fill="#F48466"/>
<circle cx="1227.42" cy="615.06" r="5.12" fill="#F48466"/>
<circle cx="1237.93" cy="605.89" r="5.12" fill="#F48466"/>
<circle cx="1248.44" cy="596.74" r="5.12" fill="#F48466"/>
<circle cx="1258.95" cy="587.62" r="5.12" fill="#F48466"/>
<circle cx="1269.46" cy="578.53" r="5.12" fill="#F48466"/>
<circle cx="1279.97" cy="569.47" r="5.12" fill="#F48466"/>
<circle cx="1290.48" cy="560.46" r="5.12" fill="#F48466"/>
<circle cx="1300.99" cy="551.49" r="5.12" fill="#F48466"/>
<circle cx="1311.50" cy="542.57" r="5.12" fill="#F48466"/>
<circle cx="1322.01" cy="533.71" r="5.12" fill="#F48466"/>
<circle cx="1332.52" cy="524.91" r="5.12" fill="#F48466"/>
<circle cx="1343.03" cy="516.17" r="5.12" fill="#F48466"/>
<circle cx="1353.54" cy="507.49" r="5.12" fill="#F48466"/>
<circle cx="1364.05" cy="498.89" r="5.12" fill="#F48466"/>
<circle cx="1374.56" cy="490.36" r="5.12" fill="#F48466"/>
<circle cx="1385.07" cy="481.91" r="5.12" fill="#F48466"/>
<circle cx="1395.58" cy="473.54" r="5.12" fill="#F48466"/>
<circle cx="1406.09" cy="465.26" r="5.12" fill="#F48466"/>
<circle cx="1416.60" cy="457.06" r="5.12" fill="#F48466"/>
</g>
<g><path d="M891.10 912.55L901.61 902.38L912.12 892.00L922.63 881.41L933.14 870.61L943.65 859.61L954.16 848.42L964.67 837.04L975.18 825.48L985.69 813.75L996.20 801.87L1006.71 789.82L1017.22 777.64L1027.73 765.33L1038.24 752.89L1048.75 740.35L1059.26 727.71L1069.77 714.99L1080.28 702.20L1090.79 689.35L1101.30 676.45L1111.81 663.53L1122.32 650.58L1132.83 637.64L1143.34 624.70L1164.36 598.92L1174.87 586.10L1185.38 573.34L1195.89 560.66L1206.40 548.07L1216.91 535.58L1227.42 523.21L1237.93 510.96L1248.44 498.85L1258.95 486.89L1269.46 475.08L1279.97 463.44L1290.48 451.98L1300.99 440.70L1311.50 429.61L1322.01 418.71L1332.52 408.02L1343.03 397.54L1353.54 387.27L1364.05 377.22L1374.56 367.39L1385.07 357.78L1395.58 348.40L1406.09 339.25L1416.60 330.32" fill="none" stroke="#689BD3" stroke-width="2.85" stroke-linejoin="round" stroke-linecap="butt"/>
<rect x="886.00" y="907.45" width="10.20" height="10.20" fill="#689BD3"/>
<rect x="896.51" y="897.28" width="10.20" height="10.20" fill="#689BD3"/>
<rect x="907.02" y="886.90" width="10.20" height="10.20" fill="#689BD3"/>
<rect x="917.53" y="876.31" width="10.20" height="10.20" fill="#689BD3"/>
<rect x="928.04" y="865.51" width="10.20" height="10.20" fill="#689BD3"/>
<rect x="938.55" y="854.51" width="10.20" height="10.20" fill="#689BD3"/>
<rect x="949.06" y="843.32" width="10.20" height="10.20" fill="#689BD3"/>
<rect x="959.57" y="831.94" width="10.20" height="10.20" fill="#689BD3"/>
<rect x="970.08" y="820.38" width="10.20" height="10.20" fill="#689BD3"/>
<rect x="980.59" y="808.65" width="10.20" height="10.20" fill="#689BD3"/>
<rect x="991.10" y="796.77" width="10.20" height="10.20" fill="#689BD3"/>
<rect x="1001.61" y="784.72" width="10.20" height="10.20" fill="#689BD3"/>
<rect x="1012.12" y="772.54" width="10.20" height="10.20" fill="#689BD3"/>
<rect x="1022.63" y="760.23" width="10.20" height="10.20" fill="#689BD3"/>
<rect x="1033.14" y="747.79" width="10.20" height="10.20" fill="#689BD3"/>
<rect x="1043.65" y="735.25" width="10.20" height="10.20" fill="#689BD3"/>
<rect x="1054.16" y="722.61" width="10.20" height="10.20" fill="#689BD3"/>
<rect x="1064.67" y="709.89" width="10.20" height="10.20" fill="#689BD3"/>
<rect x="1075.18" y="697.10" width="10.20" height="10.20" fill="#689BD3"/>
<rect x="1085.69" y="684.25" width="10.20" height="10.20" fill="#689BD3"/>
<rect x="1096.20" y="671.35" width="10.20" height="10.20" fill="#689BD3"/>
<rect x="1106.71" y="658.43" width="10.20" height="10.20" fill="#689BD3"/>
<rect x="1117.22" y="645.48" width="10.20" height="10.20" fill="#689BD3"/>
<rect x="1127.73" y="632.54" width="10.20" height="10.20" fill="#689BD3"/>
<rect x="1138.24" y="619.60" width="10.20" height="10.20" fill="#689BD3"/>
<rect x="1159.26" y="593.82" width="10.20" height="10.20" fill="#689BD3"/>
<rect x="1169.77" y="581.00" width="10.20" height="10.20" fill="#689BD3"/>
<rect x="1180.28" y="568.24" width="10.20" height="10.20" fill="#689BD3"/>
<rect x="1190.79" y="555.56" width="10.20" height="10.20" fill="#689BD3"/>
<rect x="1201.30" y="542.97" width="10.20" height="10.20" fill="#689BD3"/>
<rect x="1211.81" y="530.48" width="10.20" height="10.20" fill="#689BD3"/>
<rect x="1222.32" y="518.11" width="10.20" height="10.20" fill="#689BD3"/>
<rect x="1232.83" y="505.86" width="10.20" height="10.20" fill="#689BD3"/>
<rect x="1243.34" y="493.75" width="10.20" height="10.20" fill="#689BD3"/>
<rect x="1253.85" y="481.79" width="10.20" height="10.20" fill="#689BD3"/>
<rect x="1264.36" y="469.98" width="10.20" height="10.20" fill="#689BD3"/>
<rect x="1274.87" y="458.34" width="10.20" height="10.20" fill="#689BD3"/>
<rect x="1285.38" y="446.88" width="10.20" height="10.20" fill="#689BD3"/>
<rect x="1295.89" y="435.60" width="10.20" height="10.20" fill="#689BD3"/>
<rect x="1306.40" y="424.51" width="10.20" height="10.20" fill="#689BD3"/>
<rect x="1316.91" y="413.61" width="10.20" height="10.20" fill="#689BD3"/>
<rect x="1327.42" y="402.92" width="10.20" height="10.20" fill="#689BD3"/>
<rect x="1337.93" y="392.44" width="10.20" height="10.20" fill="#689BD3"/>
<rect x="1348.44" y="382.17" width="10.20" height="10.20" fill="#689BD3"/>
<rect x="1358.95" y="372.12" width="10.20" height="10.20" fill="#689BD3"/>
<rect x="1369.46" y="362.29" width="10.20" height="10.20" fill="#689BD3"/>
<rect x="1379.97" y="352.68" width="10.20" height="10.20" fill="#689BD3"/>
<rect x="1390.48" y="343.30" width="10.20" height="10.20" fill="#689BD3"/>
<rect x="1400.99" y="334.15" width="10.20" height="10.20" fill="#689BD3"/>
<rect x="1411.50" y="325.22" width="10.20" height="10.20" fill="#689BD3"/>
</g>
<text class="st" x="427.12" y="16.8" text-anchor="middle">AI</text>
<text class="st" x="1111.58" y="16.8" text-anchor="middle">DI</text>
<text class="ax" x="78.8" y="1217.50" text-anchor="end">0.00</text>
<text class="ax" x="78.8" y="937.00" text-anchor="end">0.25</text>
<text class="ax" x="78.8" y="656.50" text-anchor="end">0.50</text>
<text class="ax" x="78.8" y="376.00" text-anchor="end">0.75</text>
<text class="ax" x="78.8" y="95.50" text-anchor="end">1.00</text>
<text class="ax" x="101.20" y="1294.2" text-anchor="middle">3</text>
<text class="ax" x="206.33" y="1294.2" text-anchor="middle">4</text>
<text class="ax" x="311.46" y="1294.2" text-anchor="middle">5</text>
<text class="ax" x="416.59" y="1294.2" text-anchor="middle">6</text>
<text class="ax" x="521.72" y="1294.2" text-anchor="middle">7</text>
<text class="ax" x="626.85" y="1294.2" text-anchor="middle">8</text>
<text class="ax" x="731.98" y="1294.2" text-anchor="middle">9</text>
<text class="ax" x="786.00" y="1294.2" text-anchor="middle">3</text>
<text class="ax" x="891.10" y="1294.2" text-anchor="middle">4</text>
<text class="ax" x="996.20" y="1294.2" text-anchor="middle">5</text>
<text class="ax" x="1101.30" y="1294.2" text-anchor="middle">6</text>
<text class="ax" x="1206.40" y="1294.2" text-anchor="middle">7</text>
<text class="ax" x="1311.50" y="1294.2" text-anchor="middle">8</text>
<text class="ax" x="1416.60" y="1294.2" text-anchor="middle">9</text>
<text class="ti" x="769.33" y="1325.9" text-anchor="middle">Age of Allocator</text>
<text class="ti" transform="translate(20.85 647.1) rotate(-90)" text-anchor="middle">Probability of Inequity Rejection</text>
<text class="ti" x="305.6" y="1405.6">GenderAllocator</text>
<path d="M528.00 1396.3H563.20" stroke="#F48466" stroke-width="2.85"/>
<circle cx="545.60" cy="1396.30" r="5.12" fill="#F48466"/>
<text class="lg" x="582.0" y="1404.6">FF (Blake)</text>
<path d="M707.40 1396.3H742.60" stroke="#FDB84E" stroke-width="2.85"/>
<path d="M725.00 1388.37L731.87 1400.27L718.13 1400.27Z" fill="#FDB84E"/>
<text class="lg" x="761.4" y="1404.6">FF (Ours)</text>
<path d="M879.30 1396.3H914.50" stroke="#689BD3" stroke-width="2.85"/>
<rect x="891.80" y="1391.20" width="10.20" height="10.20" fill="#689BD3"/>
<text class="lg" x="932.6" y="1404.6">MM (Blake)</text>
<path d="M1068.70 1396.3H1103.90" stroke="#766DB3" stroke-width="2.85"/>
<path d="M1079.40 1396.30H1093.20M1086.30 1389.40V1403.20" stroke="#766DB3" stroke-width="1.95" stroke-linecap="round" fill="none"/>
<text class="lg" x="1122.4" y="1404.6">MM (Ours)</text>
</svg></body></html>
